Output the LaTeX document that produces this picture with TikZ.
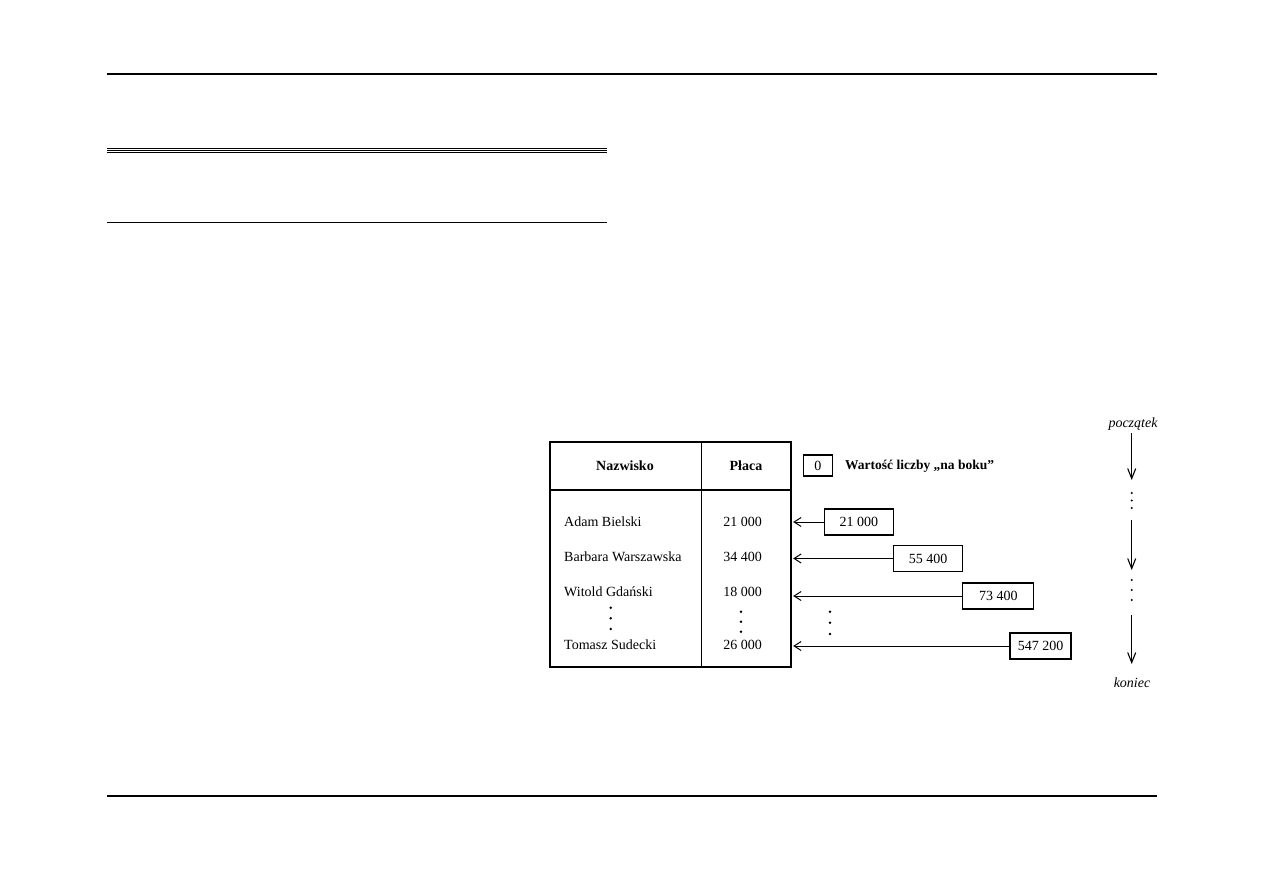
\documentclass[tikz,border=0pt]{standalone}
\usepackage{fontspec}
\setmainfont{Liberation Serif}
\usetikzlibrary{arrows.meta}
\begin{document}
\begin{tikzpicture}[x=1pt,y=-1pt,
  rule/.style={line width=1.2pt},
  tline/.style={line width=1.4pt},
  vbox/.style={draw,line width=1.2pt,inner sep=0pt,minimum height=26pt,font=\fontsize{14}{16}\selectfont},
  txt/.style={inner sep=0pt,font=\fontsize{14}{16}\selectfont},
  harr/.style={line width=1pt,{Straight Barb[length=7pt,width=9pt]}-},
  varr/.style={line width=1.1pt,-{Straight Barb[length=10pt,width=8pt]}},
  dot/.style={circle,fill,inner sep=0pt,minimum size=2.8pt}]
\useasboundingbox (0,0) rectangle (1263,893);
% page rules
\draw[rule] (107,74) -- (1157,74);
\draw[rule] (107,796) -- (1157,796);
\draw[line width=1pt] (107,148.3) -- (607,148.3);
\draw[line width=1pt] (107,150.5) -- (607,150.5);
\draw[line width=1pt] (107,152.7) -- (607,152.7);
\draw[rule] (107,222.3) -- (607,222.3);
% table
\node[draw,tline,inner sep=0pt,minimum width=241pt,minimum height=225pt] (tab) at (670.5,554.5) {};
\draw[tline] (tab.north west |- 0,490) -- (tab.north east |- 0,490);
\draw[tline] (701.5,442) -- (701.5,667);
\node[txt,font=\fontsize{14}{16}\selectfont\bfseries] (hN) at (625,466) {Nazwisko};
\node[txt,font=\fontsize{14}{16}\selectfont\bfseries] (hP) at (746,466) {Płaca};
\node[txt,anchor=west] (n1) at (564,522) {Adam Bielski};
\node[txt,anchor=west] (n2) at (564,557) {Barbara Warszawska};
\node[txt,anchor=west] (n3) at (564,592) {Witold Gdański};
\node[txt,anchor=west] (n4) at (564,645) {Tomasz Sudecki};
\node[txt] (p1) at (742.5,522) {21 000};
\node[txt] (p2) at (742.5,557) {34 400};
\node[txt] (p3) at (742.5,592) {18 000};
\node[txt] (p4) at (742.5,645) {26 000};
\foreach \y in {607.7,618.3,629} \node[dot] at (610.7,\y) {};
\foreach \y in {611.7,621.7,631.7} \node[dot] at (741,\y) {};
% legend
\node[vbox,minimum width=29pt,minimum height=21pt] (leg) at (817.8,465.5) {0};
\node[txt,anchor=west,font=\fontsize{13.5}{16}\selectfont\bfseries] (legt) at (845,466) {Wartość liczby „na boku”};
% value boxes
\node[vbox,minimum width=69pt] (b1) at (858.8,522) {21 000};
\node[vbox,minimum width=69pt] (b2) at (928,558.5) {55 400};
\node[vbox,minimum width=71pt] (b3) at (998.3,596) {73 400};
\node[vbox,minimum width=61pt] (b4) at (1040.5,646) {547 200};
\draw[harr] (b1.west -| tab.east) ++(1.5,0) coordinate (e1) -- (b1.west);
\draw[harr] (b2.west -| tab.east) ++(1.5,0) coordinate (e2) -- (b2.west);
\draw[harr] (b3.west -| tab.east) ++(1.5,0) coordinate (e3) -- (b3.west);
\draw[harr] (b4.west -| tab.east) ++(1.5,0) coordinate (e4) -- (b4.west);
\foreach \y in {611.7,622.7,634} \node[dot] at (830,\y) {};
% right column
\node[txt,font=\fontsize{14}{16}\selectfont\itshape] (start) at (1133,424) {początek};
\node[txt,font=\fontsize{14}{16}\selectfont\itshape] (stop) at (1132,683) {koniec};
\coordinate (s1) at (1131.7,433);
\coordinate (a1) at (1131.7,480);
\coordinate (s2) at (1131.7,520);
\coordinate (a2) at (1131.7,570);
\coordinate (s3) at (1131.7,615);
\coordinate (a3) at (1131.7,664);
\draw[varr] (s1) -- (a1);
\draw[varr] (s2) -- (a2);
\draw[varr] (s3) -- (a3);
\foreach \y in {493,500.5,508} \node[dot,minimum size=2.4pt] at (1131.7,\y) {};
\foreach \y in {580,590,600} \node[dot,minimum size=2.4pt] at (1131.7,\y) {};
\end{tikzpicture}
\end{document}
